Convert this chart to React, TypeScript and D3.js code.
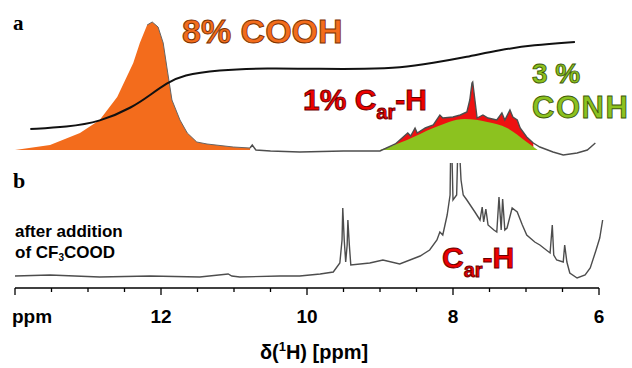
import React, { useEffect, useRef } from 'react';
import * as d3 from 'd3';

// spectrum a: COOH peak (ppm, intensity a.u.)
const coohPeak: [number, number][] = [
  [14.0, 0], [13.52, 5], [13.11, 17], [12.84, 30], [12.6, 53], [12.38, 87], [12.29, 107],
  [12.19, 125], [12.12, 128], [12.04, 123], [11.97, 107], [11.92, 83], [11.85, 50],
  [11.74, 30], [11.64, 17], [11.51, 8], [11.37, 6], [11.01, 3], [10.78, 2],
];

// spectrum a: rest of trace
const traceA: [number, number][] = [
  [10.75, 5], [10.7, 0], [10.5, -1], [10.1, -2], [9.5, -1], [9.0, -1], [8.79, 6],
  [8.62, 17], [8.58, 14], [8.52, 22], [8.49, 17], [8.38, 22], [8.27, 25], [8.18, 35],
  [8.14, 32], [8.0, 33], [7.9, 35], [7.81, 38], [7.77, 50], [7.74, 67], [7.73, 68],
  [7.7, 50], [7.67, 32], [7.59, 35], [7.52, 32], [7.4, 30], [7.33, 37], [7.29, 30],
  [7.22, 40], [7.18, 33], [7.12, 30], [7.08, 22], [6.99, 13], [6.9, 7], [6.81, 3],
  [6.63, -2], [6.49, -5], [6.3, -3], [6.16, 0], [6.05, 7],
];

// CONH hump
const conhHump: [number, number][] = [
  [9.0, 0], [8.63, 10], [8.27, 22], [7.84, 31], [7.53, 28], [7.26, 22], [6.99, 8], [6.84, 0],
];

// integral curve
const integral: [number, number][] = [
  [13.79, 21], [13.29, 23], [12.84, 28], [12.38, 43], [12.15, 55], [11.92, 67], [11.7, 75],
  [11.23, 80], [10.55, 82], [9.82, 81], [9.18, 81], [8.73, 82], [8.27, 87], [7.81, 93],
  [7.36, 100], [6.9, 105], [6.33, 108],
];

// spectrum b (after CF3COOD)
const traceB: [number, number][] = [
  [14.0, 1], [13.52, 2], [12.84, 0], [12.15, 1], [11.47, 0], [11.08, 3], [11.03, 1],
  [10.92, 0], [10.37, 1], [10.1, 1], [9.82, 3], [9.64, 5], [9.55, 14], [9.52, 37],
  [9.51, 69], [9.49, 37], [9.47, 15], [9.45, 32], [9.44, 57], [9.42, 32], [9.4, 12],
  [9.14, 14], [8.96, 17], [8.73, 13], [8.45, 21], [8.32, 27], [8.22, 37], [8.18, 45],
  [8.14, 42], [8.08, 62], [8.04, 82], [8.03, 140], [8.02, 140], [8.0, 77], [7.95, 82],
  [7.93, 140], [7.92, 140], [7.89, 97], [7.86, 82], [7.81, 77], [7.7, 65], [7.63, 57],
  [7.6, 70], [7.58, 55], [7.55, 68], [7.52, 52], [7.44, 47], [7.4, 45], [7.37, 80],
  [7.34, 47], [7.32, 78], [7.29, 47], [7.26, 49], [7.19, 69], [7.12, 65], [7.05, 52],
  [6.99, 42], [6.88, 35], [6.81, 32], [6.67, 24], [6.64, 52], [6.62, 22], [6.58, 17],
  [6.49, 15], [6.47, 32], [6.44, 15], [6.4, 4], [6.3, -1], [6.19, 2], [6.12, 9],
  [6.04, 27], [5.99, 39], [5.95, 57],
];

const majorTicks = [14, 12, 10, 8, 6];
const tickLabels = ['ppm', '12', '10', '8', '6'];
const minorTicks = d3.range(14, 5.99, -0.5);

const sans = '"Liberation Sans", Arial, Helvetica, sans-serif';

const App: React.FC = () => {
  const svgRef = useRef<SVGSVGElement | null>(null);

  useEffect(() => {
    if (!svgRef.current) return;
    const svg = d3.select(svgRef.current);
    svg.selectAll('*').remove();

    const x = d3.scaleLinear().domain([14, 6]).range([15, 599]);
    const ya = d3.scaleLinear().domain([0, 130]).range([150, 20]);
    const yb = d3.scaleLinear().domain([0, 130]).range([277, 147]);

    svg.append('defs').append('clipPath').attr('id', 'clipB')
      .append('rect').attr('x', 0).attr('y', 163).attr('width', 632).attr('height', 130);

    const areaA = d3.area<[number, number]>()
      .x(d => x(d[0])).y0(ya(0)).y1(d => ya(d[1]));
    const lineA = d3.line<[number, number]>().x(d => x(d[0])).y(d => ya(d[1]));

    // orange COOH
    svg.append('path').datum(coohPeak)
      .attr('d', areaA).attr('fill', '#f36c1c');
    svg.append('path').datum(coohPeak.filter(d => d[0] < 12.2))
      .attr('d', lineA).attr('fill', 'none').attr('stroke', '#666').attr('stroke-width', 1);

    // red Car-H
    const redPart = traceA.filter(d => d[0] <= 8.8 && d[0] >= 6.9);
    svg.append('path').datum(redPart)
      .attr('d', areaA).attr('fill', '#ee1111');

    // green CONH
    svg.append('path').datum(conhHump)
      .attr('d', areaA.curve(d3.curveMonotoneX)).attr('fill', '#8cc21f');
    areaA.curve(d3.curveLinear);

    // grey trace
    svg.append('path').datum([coohPeak[coohPeak.length - 1], ...traceA])
      .attr('d', lineA).attr('fill', 'none').attr('stroke', '#4d4d4d').attr('stroke-width', 1.4);

    // integral
    svg.append('path').datum(integral)
      .attr('d', d3.line<[number, number]>().x(d => x(d[0])).y(d => ya(d[1])).curve(d3.curveBasis))
      .attr('fill', 'none').attr('stroke', '#111').attr('stroke-width', 2);

    // spectrum b
    svg.append('path').datum(traceB)
      .attr('clip-path', 'url(#clipB)')
      .attr('d', d3.line<[number, number]>().x(d => x(d[0])).y(d => yb(d[1])))
      .attr('fill', 'none').attr('stroke', '#4d4d4d').attr('stroke-width', 1.4);

    // axis
    const ax = svg.append('g');
    ax.append('line').attr('x1', x(14)).attr('x2', x(6)).attr('y1', 288).attr('y2', 288)
      .attr('stroke', '#000').attr('stroke-width', 1.5);
    ax.selectAll('line.minor').data(minorTicks).join('line').attr('class', 'minor')
      .attr('x1', d => x(d)).attr('x2', d => x(d)).attr('y1', 288)
      .attr('y2', d => (majorTicks.includes(d) ? 295 : 292))
      .attr('stroke', '#000').attr('stroke-width', 1.3);
    ax.selectAll('text').data(majorTicks).join('text')
      .attr('x', (d, i) => (i === 0 ? 12 : x(d)))
      .attr('y', 323)
      .attr('text-anchor', (d, i) => (i === 0 ? 'start' : 'middle'))
      .attr('font-family', sans).attr('font-weight', 'bold').attr('font-size', 19)
      .text((d, i) => tickLabels[i]);

    const title = svg.append('text').attr('x', 314).attr('y', 359).attr('text-anchor', 'middle')
      .attr('font-family', sans).attr('font-weight', 'bold').attr('font-size', 20);
    title.append('tspan').text('δ(');
    title.append('tspan').attr('dy', -8).attr('font-size', 13).text('1');
    title.append('tspan').attr('dy', 8).text('H) [ppm]');
  }, []);

  const outline = (fill: string, stroke: string) => ({
    fill, stroke, strokeWidth: 0.9, fontFamily: sans, fontWeight: 'bold' as const,
  });

  return (
    <svg ref={null} width={632} height={368} style={{ position: 'absolute', left: 0, top: 0, background: '#fff' }}>
      <g ref={svgRef as any} />
      <text x={13} y={30} fontFamily='"Liberation Serif", "DejaVu Serif", serif' fontWeight="bold" fontSize={21}>a</text>
      <text x={13} y={188} fontFamily='"Liberation Serif", "DejaVu Serif", serif' fontWeight="bold" fontSize={22}>b</text>
      <text x={182} y={43} fontSize={34} {...outline('#f36c1c', '#7a3000')}>8% COOH</text>
      <text x={303} y={110} fontSize={30} {...outline('#ee0000', '#6a0000')}>
        1% C<tspan fontSize={20} dy={9}>ar</tspan><tspan dy={-9}>-H</tspan>
      </text>
      <text x={532} y={83} fontSize={28} {...outline('#8cc21f', '#3d5a08')}>3 %</text>
      <text x={532} y={118} fontSize={31} letterSpacing={1.5} {...outline('#8cc21f', '#3d5a08')}>CONH</text>
      <text x={442} y={268} fontSize={30} {...outline('#ee0000', '#6a0000')}>
        C<tspan fontSize={20} dy={9}>ar</tspan><tspan dy={-9}>-H</tspan>
      </text>
      <text x={15} y={237} fontFamily={sans} fontWeight="bold" fontSize={17}>after addition</text>
      <text x={15} y={258} fontFamily={sans} fontWeight="bold" fontSize={17}>
        of CF<tspan fontSize={10} dy={3}>3</tspan><tspan dy={-3}>COOD</tspan>
      </text>
    </svg>
  );
};

export default App;
